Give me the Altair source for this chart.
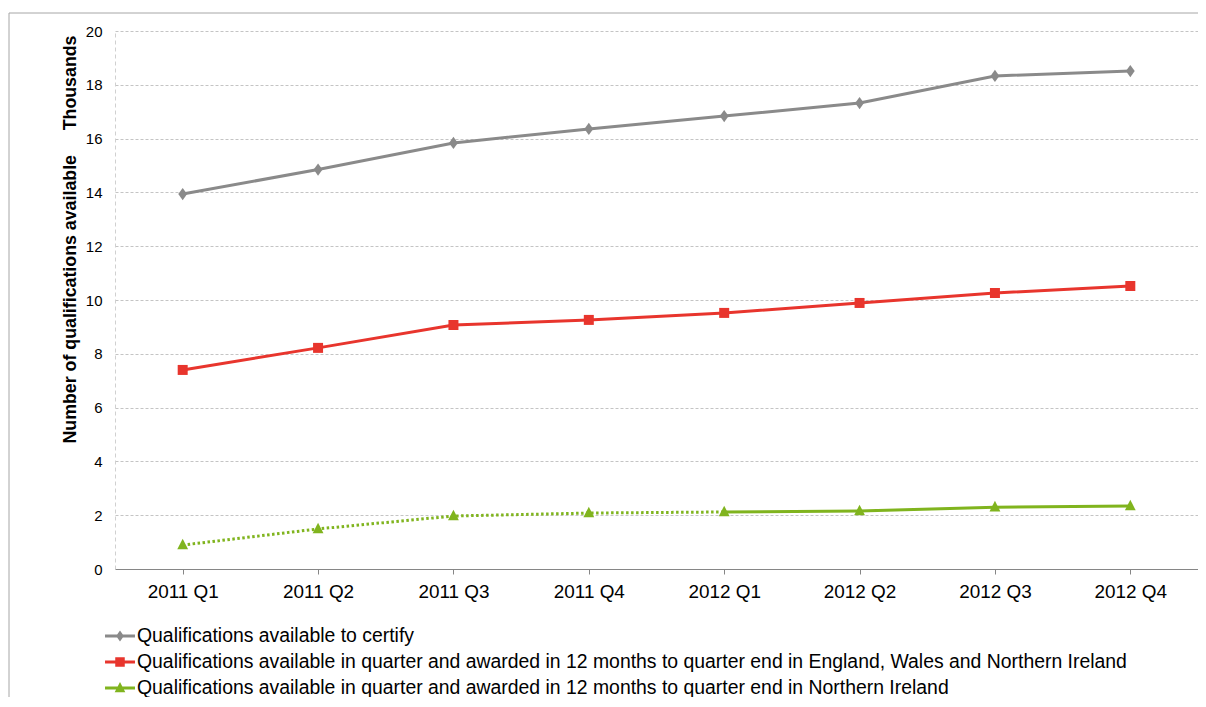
import altair as alt
import pandas as pd

quarters = ["2011 Q1", "2011 Q2", "2011 Q3", "2011 Q4", "2012 Q1", "2012 Q2", "2012 Q3", "2012 Q4"]
series_names = [
    "Qualifications available to certify",
    "Qualifications available in quarter and awarded in 12 months to quarter end in England, Wales and Northern Ireland",
    "Qualifications available in quarter and awarded in 12 months to quarter end in Northern Ireland",
]
certify = [13.94, 14.85, 15.84, 16.36, 16.84, 17.32, 18.33, 18.51]
ewni = [7.40, 8.22, 9.07, 9.26, 9.52, 9.89, 10.26, 10.52]
ni = [0.89, 1.49, 1.97, 2.08, 2.12, 2.16, 2.30, 2.34]
colors = ["#8A8A8A", "#E8352D", "#80B41E"]
y_ticks = [0, 2, 4, 6, 8, 10, 12, 14, 16, 18, 20]

rows = []
for s, vals in zip(series_names, [certify, ewni, ni]):
    for i, (q, v) in enumerate(zip(quarters, vals)):
        rows.append({"quarter": q, "series": s, "value": v, "idx": i})
df = pd.DataFrame(rows)

marker_paths = [
    "M0,-1L0.72,0L0,1L-0.72,0Z",
    "M-1,-1H1V1H-1Z",
    "M0,-1.1L0.95,0.75H-0.95Z",
]
marker_sizes = [150, 100, 130]
legend_paths = [
    "M-1.07,-0.1H1.07V0.1H-1.07Z M0,-0.4L0.28,0L0,0.4L-0.28,0Z",
    "M-1.07,-0.1H1.07V0.1H-1.07Z M-0.34,-0.34H0.34V0.34H-0.34Z",
    "M-1.07,-0.1H1.07V0.1H-1.07Z M0,-0.42L0.38,0.3H-0.38Z",
]

x_enc = alt.X("quarter:N", sort=quarters,
              scale=alt.Scale(type="point", padding=0.5),
              axis=alt.Axis(title=None, labelAngle=0, labelFontSize=18.9, labelFont="Liberation Sans",
                            labelColor="#000000", domainColor="#868686", tickColor="#868686",
                            tickSize=5, labelPadding=8, grid=False))
y_enc = alt.Y("value:Q",
              scale=alt.Scale(domain=[0, 20], nice=False),
              axis=alt.Axis(values=y_ticks,
                            title="Number of qualifications available\u00a0\u00a0\u00a0\u00a0\u00a0Thousands",
                            titleFont="Liberation Sans", titleFontSize=17.8, titleFontWeight="bold",
                            titleColor="#000000", titleAngle=270, titleAlign="right", titleY=4, titleX=-40,
                            titleBaseline="alphabetic",
                            labelFontSize=15, labelFont="Liberation Sans", labelColor="#000000",
                            labelPadding=13, ticks=False,
                            domainColor="#D0D0D0", domainDash=[4, 3],
                            grid=True, gridColor="#C4C4C4", gridDash=[3, 2]))
color_scale = alt.Scale(domain=series_names, range=colors)

base = alt.Chart(df)

lines_main = base.mark_line(strokeWidth=3).encode(
    x=x_enc, y=y_enc,
    color=alt.Color("series:N", scale=color_scale, legend=None),
).transform_filter(alt.FieldOneOfPredicate(field="series", oneOf=series_names[:2]))

green_dotted = base.mark_line(strokeWidth=3, strokeDash=[2.5, 2.5], color=colors[2]).encode(
    x=x_enc, y=y_enc
).transform_filter(
    (alt.datum.series == series_names[2]) & (alt.datum.idx <= 4)
)
green_solid = base.mark_line(strokeWidth=3, color=colors[2]).encode(
    x=x_enc, y=y_enc
).transform_filter(
    (alt.datum.series == series_names[2]) & (alt.datum.idx >= 4)
)

point_layers = []
for i, s in enumerate(series_names):
    point_layers.append(
        base.mark_point(filled=True, opacity=1, strokeWidth=0, shape=marker_paths[i],
                        size=marker_sizes[i], color=colors[i]).encode(x=x_enc, y=y_enc)
        .transform_filter(alt.datum.series == s)
    )

legend_layers = []
for i, s in enumerate(series_names):
    ldf = pd.DataFrame({"label": [s]})
    ypos = 605 + 26 * i
    legend_layers.append(
        alt.Chart(ldf).mark_point(filled=True, opacity=1, strokeWidth=0, shape=legend_paths[i],
                                  size=784, color=colors[i]).encode(x=alt.value(5), y=alt.value(ypos))
    )
    legend_layers.append(
        alt.Chart(ldf).mark_text(align="left", baseline="middle", fontSize=19.4, font="Liberation Sans",
                                 color="#000000").encode(x=alt.value(22), y=alt.value(ypos), text="label:N")
    )

frame_df = pd.DataFrame({"a": [0]})
frame_top = alt.Chart(frame_df).mark_rule(color="#A6A6A6", strokeWidth=1).encode(
    x=alt.value(-106), x2=alt.value(1083), y=alt.value(-18))
frame_left = alt.Chart(frame_df).mark_rule(color="#A6A6A6", strokeWidth=1).encode(
    x=alt.value(-106), y=alt.value(-18), y2=alt.value(700))

chart = alt.layer(frame_top, frame_left, lines_main, green_dotted, green_solid,
                  *point_layers, *legend_layers).properties(
    width=1083, height=538,
    autosize=alt.AutoSizeParams(type="none"),
    padding={"left": 107, "top": 23, "right": 0, "bottom": 128},
    background="#FFFFFF",
).configure_view(stroke=None)

chart.save("out.html", embed_options={"renderer": "svg", "actions": False})
